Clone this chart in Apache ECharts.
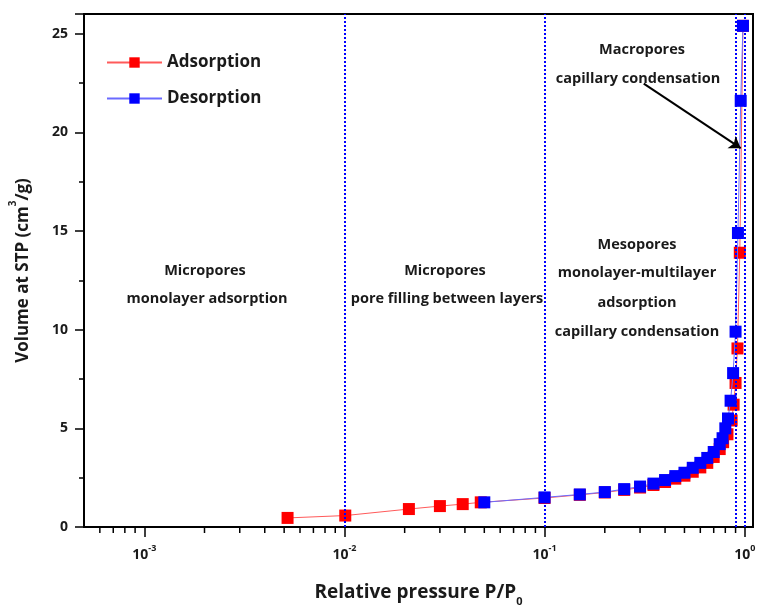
<!DOCTYPE html>
<html lang="en">
<head>
  <meta charset="UTF-8">
  <title>N2 isotherm</title>
  <script src="https://cdn.jsdelivr.net/npm/echarts@6/dist/echarts.min.js"></script>
  <style>
    body { margin: 0; background: #fff; }
    #chart { width: 760px; height: 607px; }
  </style>
</head>
<body>
<div id="chart"></div>
<script>
  // relative pressure P/P0 and adsorbed volume (cm3/g)
  let adsP = [0.0052, 0.0101, 0.021, 0.030, 0.039, 0.048, 0.10, 0.15, 0.20, 0.25, 0.30, 0.35, 0.40, 0.45,
    0.50, 0.55, 0.60, 0.65, 0.70, 0.75, 0.78, 0.82, 0.86, 0.88, 0.90, 0.92, 0.945, 0.98];
  let adsV = [0.46, 0.58, 0.91, 1.06, 1.16, 1.25, 1.47, 1.63, 1.75, 1.88, 2.0, 2.13, 2.28, 2.45,
    2.6, 2.8, 3.02, 3.25, 3.55, 3.95, 4.3, 4.7, 5.4, 6.2, 7.3, 9.05, 13.9, 25.4];
  let desP = [0.98, 0.955, 0.925, 0.90, 0.875, 0.85, 0.825, 0.80, 0.775, 0.75, 0.70, 0.65, 0.60,
    0.55, 0.50, 0.45, 0.40, 0.35, 0.30, 0.25, 0.20, 0.15, 0.10, 0.05];
  let desV = [25.4, 21.6, 14.9, 9.9, 7.8, 6.4, 5.5, 5.0, 4.5, 4.2, 3.8, 3.5, 3.25,
    3.0, 2.75, 2.58, 2.38, 2.2, 2.05, 1.92, 1.77, 1.65, 1.5, 1.25];

  // region boundaries (dotted lines) and log minor tick positions
  let regionBounds = [0.01, 0.1, 0.9, 1.0];
  let minorTicksX = [0.0006, 0.0007, 0.0008, 0.0009,
    0.002, 0.003, 0.004, 0.005, 0.006, 0.007, 0.008, 0.009,
    0.02, 0.03, 0.04, 0.05, 0.06, 0.07, 0.08, 0.09,
    0.2, 0.3, 0.4, 0.5, 0.6, 0.7, 0.8, 0.9];
  let arrowFrom = [0.313, 22.47];
  let arrowTo = [0.955, 19.2];

  let font = 'Open Sans';
  let txt = '#1a1a1a';

  let chart = echarts.init(document.getElementById('chart'));

  function zip(xs, ys) {
    return xs.map(function (x, i) { return [x, ys[i]]; });
  }

  function note(x, y, text) {
    return {
      type: 'text', x: x, y: y,
      style: {
        text: text, fill: txt, font: 'bold 14.5px "' + font + '"',
        align: 'center', verticalAlign: 'middle'
      }
    };
  }

  let option = {
    backgroundColor: '#fff',
    animation: false,
    grid: {
      left: 84, right: 7, top: 14, bottom: 80,
      outerBoundsMode: 'none',
      show: true, borderColor: '#000', borderWidth: 2
    },
    legend: {
      data: ['Adsorption', 'Desorption'],
      orient: 'vertical',
      left: 101, top: 49,
      itemWidth: 55, itemHeight: 13, itemGap: 19,
      textStyle: { fontFamily: font, fontSize: 17, fontWeight: 'bold', color: txt }
    },
    xAxis: {
      type: 'log', logBase: 10, min: 0.0005, max: 1.1,
      splitLine: { show: false },
      axisLine: { lineStyle: { color: '#000', width: 2 } },
      axisTick: { length: 10, lineStyle: { color: '#000', width: 1.5 } },
      axisLabel: {
        margin: 17, showMinLabel: false, showMaxLabel: false,
        formatter: function (v) {
          let e = Math.round(Math.log10(v));
          if (Math.abs(Math.log10(v) - e) > 1e-6) return '';
          return '{b|10}{s|' + e + '}';
        },
        rich: {
          b: { fontFamily: font, fontSize: 14, fontWeight: 'bold', color: txt, lineHeight: 18, verticalAlign: 'bottom' },
          s: { fontFamily: font, fontSize: 9, fontWeight: 'bold', color: txt, lineHeight: 10, verticalAlign: 'top' }
        }
      },
      name: '{b|Relative pressure P/P}{s|0}',
      nameLocation: 'middle', nameGap: 56,
      nameTextStyle: {
        rich: {
          b: { fontFamily: font, fontSize: 19, fontWeight: 'bold', color: txt, lineHeight: 24, verticalAlign: 'top' },
          s: { fontFamily: font, fontSize: 11, fontWeight: 'bold', color: txt, lineHeight: 8, verticalAlign: 'bottom' }
        }
      }
    },
    yAxis: {
      type: 'value', min: 0, max: 26, interval: 5,
      splitLine: { show: false },
      axisLine: { show: true, lineStyle: { color: '#000', width: 2 } },
      axisTick: { show: true, length: 9, lineStyle: { color: '#000', width: 1.5 } },
      minorTick: { show: true, splitNumber: 2, length: 5, lineStyle: { color: '#000', width: 1.5 } },
      axisLabel: {
        margin: 16, showMaxLabel: false,
        fontFamily: font, fontSize: 14, fontWeight: 'bold', color: txt
      },
      name: '{b|Volume at STP (cm}{s|3}{b|/g)}',
      nameLocation: 'middle', nameRotate: 90, nameGap: 52,
      nameTextStyle: {
        rich: {
          b: { fontFamily: font, fontSize: 17, fontWeight: 'bold', color: txt, lineHeight: 24, verticalAlign: 'bottom' },
          s: { fontFamily: font, fontSize: 10, fontWeight: 'bold', color: txt, lineHeight: 12, verticalAlign: 'top' }
        }
      }
    },
    series: [
      {
        name: 'Adsorption',
        type: 'line',
        data: zip(adsP, adsV),
        symbol: 'rect', symbolSize: 12,
        itemStyle: { color: '#ff0000' },
        lineStyle: { color: '#ff5a5a', width: 1 },
        z: 3,
        markLine: {
          silent: true, symbol: 'none', label: { show: false },
          lineStyle: { type: 'dotted', color: '#0000ff', width: 2 },
          data: regionBounds.map(function (v) { return { xAxis: v }; })
        }
      },
      {
        name: 'Desorption',
        type: 'line',
        data: zip(desP, desV),
        symbol: 'rect', symbolSize: 12,
        itemStyle: { color: '#0000ff' },
        lineStyle: { color: '#6a6aff', width: 1 },
        z: 4,
        markLine: {
          silent: true, symbol: ['none', 'arrow'], symbolSize: 11,
          label: { show: false },
          lineStyle: { type: 'solid', color: '#000', width: 2 },
          data: [[{ coord: arrowFrom }, { coord: arrowTo }]]
        }
      },
      {
        type: 'custom',
        silent: true,
        clip: false,
        data: minorTicksX.map(function (v) { return [v, 0]; }),
        renderItem: function (params, api) {
          let p = api.coord([api.value(0), 0]);
          return {
            type: 'line',
            shape: { x1: p[0], y1: p[1], x2: p[0], y2: p[1] + 6 },
            style: { stroke: '#000', lineWidth: 1.5 }
          };
        }
      }
    ],
    graphic: [
      note(205, 271, 'Micropores'),
      note(207, 299, 'monolayer adsorption'),
      note(445, 271, 'Micropores'),
      note(447, 299, 'pore filling between layers'),
      note(637, 245, 'Mesopores'),
      note(637, 273, 'monolayer-multilayer'),
      note(637, 303, 'adsorption'),
      note(637, 332, 'capillary condensation'),
      note(642, 50, 'Macropores'),
      note(638, 79, 'capillary condensation')
    ]
  };
  chart.setOption(option);
</script>
</body>
</html>
